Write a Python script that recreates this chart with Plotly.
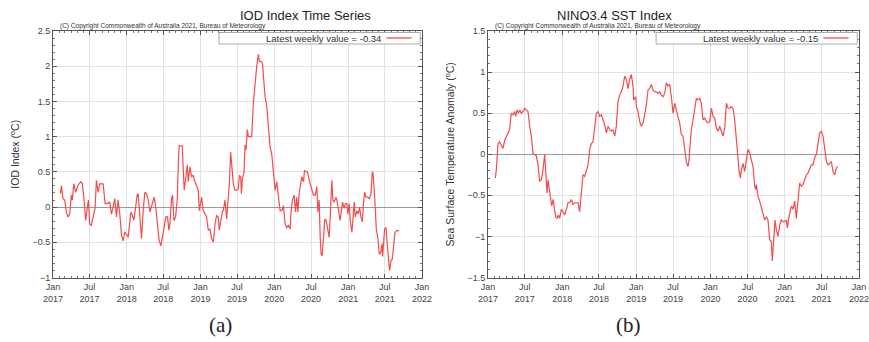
import numpy as np
import pandas as pd
import plotly.graph_objects as go

# Weekly index values; time given as years elapsed since 1 Jan 2017
iod_years = [0.100, 0.113, 0.136, 0.158, 0.181, 0.204, 0.226, 0.249, 0.262, 0.281, 0.308, 0.339, 0.376, 0.398,
             0.421, 0.443, 0.466, 0.480, 0.498, 0.520, 0.543, 0.570, 0.588, 0.611, 0.633, 0.679, 0.706, 0.733,
             0.769, 0.792, 0.814, 0.837, 0.860, 0.882, 0.905, 0.928, 0.950, 0.973, 0.995, 1.018, 1.041, 1.054,
             1.077, 1.095, 1.122, 1.140, 1.154, 1.176, 1.199, 1.222, 1.244, 1.267, 1.290, 1.312, 1.335, 1.357,
             1.371, 1.394, 1.412, 1.439, 1.462, 1.484, 1.507, 1.529, 1.552, 1.570, 1.584, 1.606, 1.620, 1.638,
             1.661, 1.683, 1.700, 1.710, 1.751, 1.765, 1.778, 1.801, 1.819, 1.833, 1.855, 1.878, 1.900, 1.923,
             1.946, 1.968, 1.982, 2.000, 2.014, 2.036, 2.059, 2.081, 2.104, 2.127, 2.149, 2.172, 2.195, 2.217,
             2.240, 2.253, 2.271, 2.294, 2.308, 2.330, 2.353, 2.367, 2.389, 2.407, 2.430, 2.443, 2.466, 2.489,
             2.511, 2.525, 2.543, 2.552, 2.566, 2.588, 2.602, 2.615, 2.633, 2.647, 2.670, 2.692, 2.715, 2.738,
             2.760, 2.783, 2.796, 2.819, 2.837, 2.851, 2.873, 2.896, 2.919, 2.941, 2.964, 2.986, 3.009, 3.032,
             3.054, 3.077, 3.100, 3.122, 3.145, 3.167, 3.190, 3.213, 3.226, 3.244, 3.267, 3.285, 3.303, 3.317,
             3.335, 3.348, 3.371, 3.394, 3.407, 3.430, 3.448, 3.471, 3.484, 3.507, 3.529, 3.552, 3.575, 3.588,
             3.606, 3.620, 3.633, 3.647, 3.665, 3.683, 3.701, 3.724, 3.742, 3.756, 3.778, 3.792, 3.810, 3.833,
             3.846, 3.869, 3.891, 3.905, 3.923, 3.946, 3.959, 3.982, 3.995, 4.014, 4.027, 4.050, 4.063, 4.081,
             4.095, 4.118, 4.136, 4.154, 4.172, 4.190, 4.208, 4.222, 4.240, 4.262, 4.285, 4.308, 4.326, 4.335,
             4.353, 4.367, 4.380, 4.403, 4.421, 4.443, 4.457, 4.466, 4.480, 4.493, 4.511, 4.525, 4.543, 4.561,
             4.579, 4.597, 4.615, 4.633, 4.661, 4.692]
iod_values = [0.19, 0.30, 0.12, 0.10, -0.07, -0.14, -0.10, 0.17, 0.10, 0.33, 0.21, 0.31, 0.36, 0.33,
              0.10, -0.19, 0.00, 0.10, -0.24, -0.26, -0.14, -0.02, 0.38, 0.21, 0.33, 0.33, 0.05, 0.05,
              0.07, -0.10, 0.00, 0.12, -0.14, 0.10, -0.10, -0.40, -0.48, -0.36, -0.38, -0.43, -0.21, -0.07,
              -0.12, -0.19, 0.02, 0.17, 0.19, -0.14, -0.45, -0.05, 0.21, 0.19, 0.10, -0.07, 0.02, 0.12,
              0.14, -0.02, -0.24, -0.48, -0.55, -0.40, -0.26, -0.14, -0.14, -0.33, -0.24, 0.12, 0.17, -0.19,
              -0.14, 0.10, 0.67, 0.87, 0.87, 0.52, 0.24, 0.43, 0.60, 0.36, 0.57, 0.43, 0.45, 0.36,
              0.29, 0.24, -0.05, 0.10, 0.14, -0.05, -0.10, -0.14, -0.33, -0.31, -0.45, -0.50, -0.24, -0.12,
              -0.14, -0.33, -0.21, -0.07, -0.05, 0.10, -0.17, 0.05, 0.33, 0.78, 0.52, 0.33, 0.24, 0.24,
              0.26, 0.45, 0.43, 0.19, 0.40, 0.50, 0.88, 0.81, 1.10, 1.00, 1.00, 1.00, 1.48, 1.81,
              2.00, 2.17, 2.07, 2.07, 2.05, 1.86, 1.57, 1.43, 1.14, 0.85, 0.75, 0.50, 0.24, 0.36,
              0.14, -0.05, -0.05, 0.02, -0.24, -0.29, -0.26, -0.31, -0.05, 0.10, 0.17, -0.07, 0.14, -0.07,
              0.19, 0.29, 0.43, 0.36, 0.52, 0.50, 0.50, 0.38, 0.33, 0.24, 0.17, 0.17, 0.29, -0.07,
              0.10, -0.43, -0.67, -0.69, -0.43, -0.17, -0.19, -0.31, -0.43, -0.14, 0.38, 0.10, 0.07, 0.14,
              0.10, -0.05, -0.19, -0.07, 0.07, -0.02, 0.05, 0.05, -0.10, 0.05, -0.19, -0.36, -0.19, 0.07,
              -0.14, -0.05, -0.10, 0.00, -0.14, -0.21, 0.07, 0.21, 0.14, 0.14, 0.12, 0.19, 0.50, 0.48,
              0.24, -0.02, -0.31, -0.45, -0.67, -0.64, -0.52, -0.70, -0.48, -0.31, -0.29, -0.43, -0.71, -0.90,
              -0.76, -0.74, -0.52, -0.36, -0.33, -0.34]

nino_years = [0.099, 0.112, 0.135, 0.157, 0.180, 0.202, 0.225, 0.247, 0.270, 0.292, 0.314, 0.337, 0.359, 0.373,
              0.391, 0.409, 0.427, 0.449, 0.472, 0.494, 0.517, 0.539, 0.562, 0.584, 0.606, 0.629, 0.651, 0.674,
              0.696, 0.719, 0.741, 0.764, 0.777, 0.795, 0.809, 0.822, 0.840, 0.858, 0.876, 0.894, 0.912, 0.930,
              0.948, 0.966, 0.988, 1.011, 1.033, 1.056, 1.078, 1.101, 1.123, 1.145, 1.168, 1.190, 1.213, 1.235,
              1.258, 1.280, 1.303, 1.325, 1.348, 1.370, 1.393, 1.415, 1.437, 1.460, 1.482, 1.505, 1.527, 1.550,
              1.572, 1.595, 1.617, 1.640, 1.662, 1.684, 1.707, 1.729, 1.752, 1.774, 1.797, 1.819, 1.842, 1.864,
              1.887, 1.909, 1.932, 1.954, 1.963, 1.990, 1.999, 2.021, 2.044, 2.066, 2.089, 2.111, 2.134, 2.156,
              2.179, 2.201, 2.224, 2.246, 2.268, 2.291, 2.313, 2.336, 2.358, 2.381, 2.403, 2.426, 2.448, 2.471,
              2.493, 2.516, 2.538, 2.560, 2.583, 2.605, 2.628, 2.650, 2.673, 2.695, 2.709, 2.718, 2.740, 2.763,
              2.785, 2.808, 2.830, 2.853, 2.875, 2.897, 2.920, 2.942, 2.965, 2.987, 3.010, 3.032, 3.055, 3.077,
              3.100, 3.122, 3.145, 3.167, 3.190, 3.212, 3.235, 3.257, 3.279, 3.302, 3.324, 3.347, 3.369, 3.383,
              3.401, 3.414, 3.436, 3.459, 3.481, 3.504, 3.526, 3.549, 3.571, 3.594, 3.607, 3.616, 3.638, 3.661,
              3.683, 3.706, 3.728, 3.751, 3.773, 3.796, 3.818, 3.831, 3.850, 3.868, 3.886, 3.908, 3.931, 3.953,
              3.975, 3.998, 4.020, 4.034, 4.056, 4.088, 4.110, 4.133, 4.155, 4.178, 4.200, 4.222, 4.245, 4.267,
              4.290, 4.312, 4.335, 4.357, 4.380, 4.402, 4.425, 4.447, 4.470, 4.492, 4.515, 4.537, 4.560, 4.582,
              4.604, 4.627, 4.649, 4.672, 4.694, 4.708]
nino_values = [-0.29, -0.19, 0.13, 0.15, 0.11, 0.07, 0.17, 0.22, 0.26, 0.30, 0.50, 0.48, 0.52, 0.46,
               0.54, 0.50, 0.54, 0.50, 0.52, 0.56, 0.54, 0.52, 0.34, 0.22, 0.01, -0.01, -0.02, -0.13,
               -0.33, -0.31, -0.19, 0.00, -0.19, -0.47, -0.31, -0.39, -0.55, -0.63, -0.55, -0.66, -0.76, -0.78,
               -0.74, -0.78, -0.67, -0.70, -0.74, -0.67, -0.59, -0.59, -0.55, -0.61, -0.59, -0.59, -0.59, -0.70,
               -0.47, -0.25, -0.27, -0.21, -0.13, 0.06, 0.13, 0.15, 0.34, 0.50, 0.52, 0.46, 0.48, 0.42,
               0.36, 0.26, 0.34, 0.30, 0.28, 0.30, 0.22, 0.34, 0.64, 0.72, 0.76, 0.83, 0.95, 0.91,
               0.80, 0.91, 0.97, 0.83, 0.66, 0.70, 0.58, 0.52, 0.40, 0.34, 0.38, 0.48, 0.60, 0.78,
               0.80, 0.85, 0.78, 0.76, 0.76, 0.74, 0.76, 0.72, 0.70, 0.74, 0.87, 0.83, 0.85, 0.70,
               0.50, 0.62, 0.52, 0.46, 0.38, 0.24, 0.22, 0.05, -0.09, -0.15, -0.07, 0.06, 0.30, 0.42,
               0.54, 0.68, 0.66, 0.68, 0.62, 0.42, 0.44, 0.40, 0.38, 0.40, 0.56, 0.46, 0.44, 0.32,
               0.28, 0.34, 0.28, 0.22, 0.32, 0.62, 0.56, 0.56, 0.58, 0.56, 0.42, 0.17, -0.03, -0.20,
               -0.29, -0.19, -0.11, -0.21, -0.07, 0.06, 0.02, -0.07, -0.15, -0.39, -0.43, -0.37, -0.51, -0.57,
               -0.65, -0.72, -0.80, -0.76, -0.80, -1.04, -1.06, -1.30, -1.04, -0.80, -0.92, -1.00, -0.86, -0.80,
               -0.82, -0.82, -0.80, -0.90, -0.76, -0.63, -0.67, -0.57, -0.78, -0.51, -0.35, -0.39, -0.37, -0.31,
               -0.25, -0.23, -0.17, -0.13, -0.13, -0.04, 0.00, 0.11, 0.26, 0.28, 0.22, 0.07, -0.09, -0.13,
               -0.11, -0.09, -0.21, -0.25, -0.17, -0.15]

tick_dates = ["2017-01-01", "2017-07-01", "2018-01-01", "2018-07-01", "2019-01-01", "2019-07-01",
              "2020-01-01", "2020-07-01", "2021-01-01", "2021-07-01", "2022-01-01"]
tick_labels = ["Jan<br>2017", "Jul<br>2017", "Jan<br>2018", "Jul<br>2018", "Jan<br>2019", "Jul<br>2019",
               "Jan<br>2020", "Jul<br>2020", "Jan<br>2021", "Jul<br>2021", "Jan<br>2022"]
iod_ticks = [-1, -0.5, 0, 0.5, 1, 1.5, 2, 2.5]
nino_ticks = [-1.5, -1, -0.5, 0, 0.5, 1, 1.5]

iod_latest = -0.34
nino_latest = -0.15

base = pd.Timestamp("2017-01-01")


def to_dates(years):
    return base + pd.to_timedelta(np.array(years) * 365.25, unit="D")


LINE = "rgb(245,75,75)"
FONT = "Liberation Sans, Arial, sans-serif"
H = 342.0


def py(px):
    """Paper y for a pixel distance from the top edge (margins are zero)."""
    return 1 - px / H


fig = go.Figure()
fig.add_trace(go.Scatter(x=to_dates(iod_years), y=iod_values, mode="lines",
                         line=dict(color=LINE, width=1.2), xaxis="x", yaxis="y", showlegend=False))
fig.add_trace(go.Scatter(x=to_dates(nino_years), y=nino_values, mode="lines",
                         line=dict(color=LINE, width=1.2), xaxis="x2", yaxis="y2", showlegend=False))

ydom = [py(277.5), py(31)]
xdom1 = [53 / 869, 422 / 869]
xdom2 = [488 / 869, 859 / 869]


def xaxis_cfg(dom, anchor):
    return dict(domain=dom, anchor=anchor, range=["2017-01-01", "2022-01-01"], automargin=False,
                tickvals=tick_dates, ticktext=tick_labels, tickfont=dict(size=9, color="#444", family=FONT),
                ticklabeloverflow="allow",
                showgrid=True, gridcolor="#e2e2e2", gridwidth=1,
                showline=True, linecolor="#555", linewidth=1, mirror="allticks",
                ticks="inside", ticklen=4, tickcolor="#555",
                minor=dict(ticks="inside", ticklen=2, tickcolor="#777", dtick="M1", showgrid=False),
                zeroline=False, ticklabelstandoff=1)


def yaxis_cfg(dom, anchor, rng, vals, title):
    return dict(domain=dom, anchor=anchor, range=rng, tickvals=vals, automargin=False,
                tickfont=dict(size=9, color="#444", family=FONT),
                showgrid=True, gridcolor="#e2e2e2", gridwidth=1,
                showline=True, linecolor="#555", linewidth=1, mirror="allticks",
                ticks="inside", ticklen=4, tickcolor="#555",
                minor=dict(ticks="inside", ticklen=2, tickcolor="#777", dtick=0.1, showgrid=False),
                zeroline=True, zerolinecolor="#9a9a9a", zerolinewidth=1,
                title=dict(text=title, font=dict(size=10.5, color="#333", family=FONT), standoff=10))


fig.update_layout(
    width=869, height=342,
    margin=dict(l=0, r=0, t=0, b=0, autoexpand=False),
    paper_bgcolor="white", plot_bgcolor="white",
    xaxis=xaxis_cfg(xdom1, "y"),
    yaxis=yaxis_cfg(ydom, "x", [-1, 2.5], iod_ticks, "IOD Index (<sup>o</sup>C)"),
    xaxis2=xaxis_cfg(xdom2, "y2"),
    yaxis2=yaxis_cfg(ydom, "x2", [-1.5, 1.5], nino_ticks,
                     "Sea Surface Temperature Anomaly (<sup>o</sup>C)"),
    font=dict(family=FONT),
)

ann = []
shapes = []
copyright_text = "(C) Copyright Commonwealth of Australia 2021, Bureau of Meteorology"
panels = [
    (xdom1, "IOD Index Time Series", iod_latest, "(a)"),
    (xdom2, "NINO3.4 SST Index", nino_latest, "(b)"),
]
for dom, title, latest, tag in panels:
    mid = (dom[0] + dom[1]) / 2
    ann.append(dict(text=title, x=mid, y=py(15), xref="paper", yref="paper", showarrow=False,
                    yanchor="middle", font=dict(size=13, color="#222", family=FONT)))
    ann.append(dict(text=copyright_text, x=dom[0] + 0.006, y=py(26), xref="paper", yref="paper",
                    xanchor="left", yanchor="middle", showarrow=False,
                    font=dict(size=6.5, color="#333", family=FONT)))
    # legend box at the top-right corner of each panel
    right = dom[1] - 0.002
    left = right - 0.2315
    shapes.append(dict(type="rect", xref="paper", yref="paper", x0=left, x1=right, y0=py(44), y1=py(32.5),
                       line=dict(color="#aaa", width=1), fillcolor="white"))
    shapes.append(dict(type="line", xref="paper", yref="paper", x0=right - 0.039, x1=right - 0.010,
                       y0=py(38), y1=py(38), line=dict(color=LINE, width=1.3)))
    ann.append(dict(text=f"Latest weekly value = {latest:.2f}", x=right - 0.043, y=py(38),
                    xref="paper", yref="paper", xanchor="right", yanchor="middle", showarrow=False,
                    font=dict(size=9.5, color="#333", family=FONT)))
    ann.append(dict(text=tag, x=mid - 0.035, y=py(325), xref="paper", yref="paper", showarrow=False,
                    yanchor="middle",
                    font=dict(size=21, color="#222", family="Liberation Serif, Times New Roman, serif")))

fig.update_layout(annotations=ann, shapes=shapes)

fig.write_html("out.html")
